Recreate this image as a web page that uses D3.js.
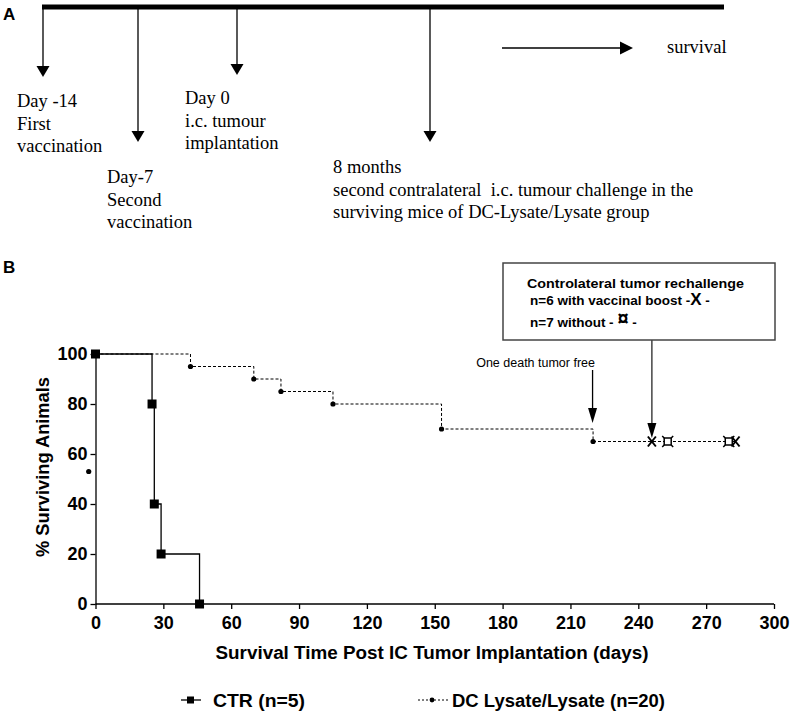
<!DOCTYPE html>
<html>
<head>
<meta charset="utf-8">
<script src="https://cdn.jsdelivr.net/npm/d3@7"></script>
<style>
  html, body { margin: 0; padding: 0; background: #fff; }
  svg { display: block; }
  .sans { font-family: "Liberation Sans", Arial, Helvetica, sans-serif; }
  .serif { font-family: "Liberation Serif", "Times New Roman", serif; }
</style>
</head>
<body>
<svg id="chart" width="790" height="722"></svg>
<script>
// ---------- DATA ----------
const ctrTimes = [0, 25, 26, 29, 46];
const ctrSurvival = [100, 80, 40, 20, 0];
const dcTimes = [0, 42, 70, 82, 105, 153, 220];
const dcSurvival = [100, 95, 90, 85, 80, 70, 65];
const dcLastFollowUp = 284;
const censorBoostTimes = [246, 283];      // "X" markers (n=6 with vaccinal boost)
const censorNoBoostTimes = [253, 280];    // "¤" markers (n=7 without)
const censorSurvival = 65;
const xTickValues = [0, 30, 60, 90, 120, 150, 180, 210, 240, 270, 300];
const yTickValues = [0, 20, 40, 60, 80, 100];
const strayPoint = [-3, 53];
const oneDeathDay = 220;
const rechallengeDay = 246;

// Panel A timeline
const timelineEvents = [
  { lines: ["Day -14", "First", "vaccination"] },
  { lines: ["Day-7", "Second", "vaccination"] },
  { lines: ["Day 0", "i.c. tumour", "implantation"] },
  { lines: ["8 months", "second contralateral  i.c. tumour challenge in the", "surviving mice of DC-Lysate/Lysate group"] }
];

const svg = d3.select("#chart");

// ---------- PANEL A ----------
const A = svg.append("g");
A.append("text").attr("class", "sans").attr("x", 3).attr("y", 20)
  .attr("font-size", 17).attr("font-weight", "bold").text("A");

A.append("line").attr("x1", 42).attr("x2", 724).attr("y1", 7).attr("y2", 7)
  .attr("stroke", "#000").attr("stroke-width", 5);

const arrowX = [43, 138, 237, 430];
const arrowTip = [77, 142, 75, 142];
const textX = [17, 107, 185, 333];
const textBase = [107, 183, 104, 173];

timelineEvents.forEach((ev, i) => {
  const x = arrowX[i], tip = arrowTip[i];
  A.append("line").attr("x1", x).attr("x2", x).attr("y1", 9).attr("y2", tip - 10)
    .attr("stroke", "#000").attr("stroke-width", 1.3);
  A.append("path").attr("d", `M${x - 6.5},${tip - 11} L${x + 6.5},${tip - 11} L${x},${tip} Z`)
    .attr("fill", "#000");
  const t = A.append("text").attr("class", "serif").attr("font-size", 18.5).attr("fill", "#000");
  ev.lines.forEach((ln, j) => {
    t.append("tspan").attr("x", textX[i]).attr("y", textBase[i] + j * 22.5)
      .attr("xml:space", "preserve").style("white-space", "pre").text(ln);
  });
});

// survival arrow
A.append("line").attr("x1", 502).attr("x2", 622).attr("y1", 48).attr("y2", 48)
  .attr("stroke", "#000").attr("stroke-width", 1.3);
A.append("path").attr("d", "M620,41.5 L620,54.5 L633,48 Z").attr("fill", "#000");
A.append("text").attr("class", "serif").attr("x", 667).attr("y", 53)
  .attr("font-size", 18.5).text("survival");

// ---------- PANEL B ----------
svg.append("text").attr("class", "sans").attr("x", 3).attr("y", 273)
  .attr("font-size", 17).attr("font-weight", "bold").text("B");

const x = d3.scaleLinear().domain([0, 300]).range([95.5, 774]);
const y = d3.scaleLinear().domain([0, 100]).range([604, 354]);

const B = svg.append("g");

// axes
const xAxis = B.append("g").attr("transform", `translate(0,${y(0)})`)
  .call(d3.axisBottom(x).tickValues(xTickValues).tickSize(5).tickPadding(7).tickSizeOuter(0));
const yAxis = B.append("g").attr("transform", `translate(${x(0)},0)`)
  .call(d3.axisLeft(y).tickValues(yTickValues).tickSize(5).tickPadding(3).tickSizeOuter(0));
[xAxis, yAxis].forEach(ax => {
  ax.select(".domain").attr("stroke", "#000").attr("stroke-width", 1.3);
  ax.selectAll(".tick line").attr("stroke", "#000").attr("stroke-width", 1.3);
  ax.selectAll(".tick text").attr("class", "sans").attr("font-size", 18)
    .attr("font-weight", "bold").attr("fill", "#000");
});
xAxis.select(".domain").attr("d", `M${x(0)},0H${x(300)}`);

// axis titles
svg.append("text").attr("class", "sans").attr("x", 432).attr("y", 659)
  .attr("text-anchor", "middle").attr("font-size", 18).attr("font-weight", "bold")
  .attr("textLength", 433).attr("lengthAdjust", "spacingAndGlyphs")
  .text("Survival Time Post IC Tumor Implantation (days)");
svg.append("text").attr("class", "sans")
  .attr("transform", "translate(49,467) rotate(-90)")
  .attr("text-anchor", "middle").attr("font-size", 19).attr("font-weight", "bold")
  .attr("textLength", 180).attr("lengthAdjust", "spacingAndGlyphs")
  .text("% Surviving Animals");

// step lines
const step = d3.line().x(d => x(d[0])).y(d => y(d[1])).curve(d3.curveStepAfter);
const ctrPts = ctrTimes.map((t, i) => [t, ctrSurvival[i]]);
const dcPts = dcTimes.map((t, i) => [t, dcSurvival[i]]).concat([[dcLastFollowUp, dcSurvival[dcSurvival.length - 1]]]);

B.append("path").attr("d", step(dcPts)).attr("fill", "none")
  .attr("stroke", "#000").attr("stroke-width", 1).attr("stroke-dasharray", "3,2");
B.append("path").attr("d", step(ctrPts)).attr("fill", "none")
  .attr("stroke", "#000").attr("stroke-width", 1.3);

// DC dots
B.selectAll(".dcdot").data(dcPts.slice(1, dcPts.length - 1)).enter().append("circle")
  .attr("cx", d => x(d[0])).attr("cy", d => y(d[1])).attr("r", 2.6).attr("fill", "#000");

// CTR squares
B.selectAll(".ctrsq").data(ctrPts).enter().append("rect")
  .attr("x", d => x(d[0]) - 4.5).attr("y", d => y(d[1]) - 4.5)
  .attr("width", 9).attr("height", 9).attr("fill", "#000");

// stray dot
B.append("circle").attr("cx", x(strayPoint[0])).attr("cy", y(strayPoint[1])).attr("r", 2.6).attr("fill", "#000");

// censor markers
function xMark(g, cx, cy) {
  g.append("path").attr("d", `M${cx - 4},${cy - 5} L${cx + 4},${cy + 5} M${cx + 4},${cy - 5} L${cx - 4},${cy + 5}`)
    .attr("stroke", "#000").attr("stroke-width", 2).attr("fill", "none");
}
function curMark(g, cx, cy) {
  g.append("rect").attr("x", cx - 3.5).attr("y", cy - 3.5).attr("width", 7).attr("height", 7)
    .attr("fill", "#fff").attr("stroke", "#000").attr("stroke-width", 1.5);
  g.append("path").attr("d",
    `M${cx - 3.5},${cy - 3.5} l-2,-2 M${cx + 3.5},${cy - 3.5} l2,-2 M${cx - 3.5},${cy + 3.5} l-2,2 M${cx + 3.5},${cy + 3.5} l2,2`)
    .attr("stroke", "#000").attr("stroke-width", 1.5);
}
censorNoBoostTimes.forEach(t => curMark(B, x(t), y(censorSurvival)));
censorBoostTimes.forEach(t => xMark(B, x(t), y(censorSurvival)));

// annotation: one death tumor free
svg.append("text").attr("class", "sans").attr("x", 595).attr("y", 367)
  .attr("text-anchor", "end").attr("font-size", 12.5).text("One death tumor free");
const od = x(oneDeathDay) - 0.5;
svg.append("line").attr("x1", od).attr("x2", od).attr("y1", 370).attr("y2", 410)
  .attr("stroke", "#000").attr("stroke-width", 1.3);
svg.append("path").attr("d", `M${od - 4.5},${408} L${od + 4.5},${408} L${od},${423} Z`).attr("fill", "#000");

// annotation box
svg.append("rect").attr("x", 503).attr("y", 263).attr("width", 272).attr("height", 77)
  .attr("fill", "#fff").attr("stroke", "#444").attr("stroke-width", 1.5);
svg.append("text").attr("class", "sans").attr("x", 527).attr("y", 288)
  .attr("font-size", 13.5).attr("font-weight", "bold")
  .attr("textLength", 217).attr("lengthAdjust", "spacingAndGlyphs")
  .text("Controlateral tumor rechallenge");
const l2 = svg.append("text").attr("class", "sans").attr("x", 530).attr("y", 305)
  .attr("font-size", 13.5).attr("font-weight", "bold").attr("xml:space", "preserve");
l2.append("tspan").text("n=6 with vaccinal boost -");
l2.append("tspan").attr("font-size", 17).text("X");
l2.append("tspan").text(" -");
const l3 = svg.append("text").attr("class", "sans").attr("x", 530).attr("y", 327)
  .attr("font-size", 13.5).attr("font-weight", "bold").attr("xml:space", "preserve");
l3.append("tspan").text("n=7 without - ");
l3.append("tspan").attr("dy", -2).attr("font-size", 20).text("¤");
l3.append("tspan").attr("dy", 2).text(" -");

const rc = x(rechallengeDay);
svg.append("line").attr("x1", rc).attr("x2", rc).attr("y1", 340).attr("y2", 425)
  .attr("stroke", "#444").attr("stroke-width", 1.5);
svg.append("path").attr("d", `M${rc - 4.5},${423} L${rc + 4.5},${423} L${rc},${438} Z`).attr("fill", "#000");

// legend
const L = svg.append("g");
L.append("line").attr("x1", 181).attr("x2", 201).attr("y1", 700).attr("y2", 700)
  .attr("stroke", "#000").attr("stroke-width", 1.3);
L.append("rect").attr("x", 187).attr("y", 696.5).attr("width", 7).attr("height", 7).attr("fill", "#000");
L.append("text").attr("class", "sans").attr("x", 213).attr("y", 707)
  .attr("font-size", 18).attr("font-weight", "bold")
  .attr("textLength", 92).attr("lengthAdjust", "spacingAndGlyphs").text("CTR (n=5)");
L.append("line").attr("x1", 418).attr("x2", 450).attr("y1", 700).attr("y2", 700)
  .attr("stroke", "#000").attr("stroke-width", 1).attr("stroke-dasharray", "2,2");
L.append("circle").attr("cx", 432).attr("cy", 700).attr("r", 2.4).attr("fill", "#000");
L.append("text").attr("class", "sans").attr("x", 452).attr("y", 707)
  .attr("font-size", 18).attr("font-weight", "bold")
  .attr("textLength", 213).attr("lengthAdjust", "spacingAndGlyphs").text("DC Lysate/Lysate (n=20)");
</script>
</body>
</html>
